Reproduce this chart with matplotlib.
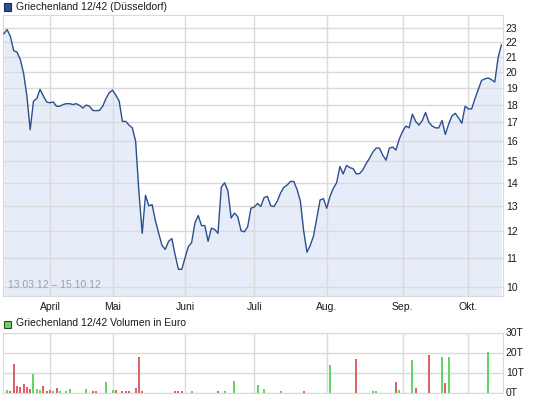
import numpy as np
import pandas as pd
import matplotlib
matplotlib.use('Agg')
import matplotlib.pyplot as plt
from matplotlib.patches import Rectangle
from matplotlib.ticker import FixedLocator, FixedFormatter, NullLocator

plt.rcParams['font.family'] = ['Liberation Sans', 'DejaVu Sans']

# Kurs (Euro) je Handelstag, 13.03.12 - 15.10.12
preis_maerz = [22.6, 22.9, 22.4, 21.4, 21.3, 20.8, 19.9, 18.5, 16.6, 18.2, 18.35, 18.9, 18.5, 18.15]
preis_april = [18.1, 18.15, 17.9, 17.9, 18.0, 18.05, 18.05, 18.0, 18.05, 17.95, 17.8, 17.97, 17.9,
               17.66, 17.65, 17.66, 17.9, 18.35, 18.7]
preis_mai = [18.85, 18.55, 18.2, 17.05, 17.05, 16.85, 16.7, 16.0, 13.6, 11.9, 13.45, 13.0, 13.05,
             12.4, 11.9, 11.45, 11.3, 11.6, 11.7, 11.1, 10.6, 10.6]
preis_juni = [11.0, 11.4, 11.55, 12.3, 12.6, 12.2, 12.2, 11.6, 12.1, 12.05, 11.9, 13.8, 14.0, 13.65,
              12.5, 12.7, 12.55, 12.0, 11.96, 12.15, 12.9]
preis_juli = [12.95, 13.1, 12.97, 13.35, 13.4, 13.0, 12.97, 13.2, 13.55, 13.8, 13.9, 14.06, 14.06,
              13.7, 13.2, 12.0, 11.2, 11.45, 11.8, 12.5, 13.25, 13.3]
preis_aug = [12.9, 13.4, 13.75, 14.0, 14.75, 14.4, 14.8, 14.7, 14.65, 14.4, 14.42, 14.6, 14.9, 15.15,
             15.45, 15.65, 15.65, 15.3, 15.05, 15.65, 15.7, 15.55, 16.1]
preis_sep = [16.5, 16.8, 16.7, 17.45, 17.05, 16.85, 17.1, 17.55, 17.0, 16.8, 16.7, 16.7, 17.1, 16.35,
             16.9, 17.35, 17.5, 17.25, 16.95, 17.9]
preis_okt = [17.75, 17.75, 18.35, 18.9, 19.45, 19.55, 19.6, 19.5, 19.35, 20.9, 21.8]

# Volumen (Tausend Euro): Handelstag-Nr., Wert, Farbe (g = steigend, r = fallend)
vol_tag = [1, 2, 3, 4, 5, 6, 7, 8, 9, 10, 11, 12, 13, 14, 15, 16, 17, 19, 20, 25, 27, 28, 31, 33,
           34, 36, 37, 38, 40, 41, 42, 52, 53, 54, 57, 65, 67, 70, 77, 79, 84, 91, 99, 107, 112,
           113, 119, 120, 124, 125, 129, 133, 134, 135, 147]
vol_wert = [1.2, 0.7, 14.2, 3.2, 2.7, 4.2, 2.7, 1.8, 9.2, 1.7, 1.2, 3.2, 0.7, 1.2, 0.7, 2.2, 0.7,
            0.7, 1.7, 1.7, 0.7, 0.7, 5.2, 1.2, 1.2, 0.7, 0.7, 0.7, 2.2, 17.7, 0.7, 0.7, 0.7, 0.7,
            0.7, 0.7, 0.7, 5.7, 3.7, 1.7, 0.7, 0.7, 13.7, 16.7, 0.7, 0.7, 5.2, 1.2, 16.3, 2.3,
            18.7, 17.7, 4.7, 17.7, 20.2]
vol_farbe = ['g', 'r', 'r', 'r', 'r', 'r', 'r', 'r', 'g', 'g', 'g', 'r', 'r', 'r', 'g', 'r', 'g',
             'g', 'g', 'g', 'r', 'r', 'g', 'g', 'r', 'r', 'r', 'r', 'r', 'r', 'r', 'r', 'r', 'r',
             'g', 'r', 'g', 'g', 'g', 'g', 'g', 'r', 'g', 'r', 'g', 'g', 'r', 'g', 'g', 'r',
             'r', 'g', 'r', 'g', 'g']

monate = ['April', 'Mai', 'Juni', 'Juli', 'Aug.', 'Sep.', 'Okt.']
kurs_ticks = list(range(10, 24))
vol_ticks = [0, 10, 20, 30]
vol_labels = ['0T', '10T', '20T', '30T']

# Handelskalender (Feiertage Ostern, 1. Mai)
tage = pd.bdate_range('2012-03-13', '2012-10-15')
tage = tage[~tage.isin(pd.to_datetime(['2012-04-06', '2012-04-09', '2012-05-01']))]
preis = np.array(preis_maerz + preis_april + preis_mai + preis_juni + preis_juli
                 + preis_aug + preis_sep + preis_okt)
x = np.arange(len(tage))
monat_pos = [int(np.argmax(tage.month == m)) for m in range(4, 11)]

W, H = 545, 401
fig = plt.figure(figsize=(W / 100, H / 100), dpi=100)
fig.patch.set_facecolor('white')

def rect(l, t, r, b):
    return [l / W, 1 - b / H, (r - l) / W, (b - t) / H]

grid_c = '#dadada'
txt_c = '#1a1a1a'

# --- Kurschart ---
ax = fig.add_axes(rect(3, 15, 503, 296))
ax.set_yscale('log')
ymin, ymax = 9.73, 24.0
ax.fill_between(x, preis, ymin, color='#e6ecf8', lw=0, zorder=1)
ax.plot(x, preis, color='#2c4f8e', lw=1.0, zorder=3)
ax.set_ylim(ymin, ymax)
ax.set_xlim(-0.25, 151.5)
ax.yaxis.set_major_locator(FixedLocator(kurs_ticks))
ax.yaxis.set_major_formatter(FixedFormatter([str(t) for t in kurs_ticks]))
ax.yaxis.set_minor_locator(NullLocator())
ax.yaxis.tick_right()
ax.set_xticks(monat_pos)
ax.set_xticklabels(monate)
ax.tick_params(axis='both', length=0, labelsize=7.5, colors=txt_c)
ax.tick_params(axis='y', pad=2)
ax.tick_params(axis='x', pad=4)
ax.grid(True, color=grid_c, lw=1, zorder=2)
ax.set_axisbelow(False)
for s in ax.spines.values():
    s.set_color(grid_c)
ax.text(0.01, 0.022, '13.03.12 \u2013 15.10.12', transform=ax.transAxes, fontsize=7.5,
        color='#a0a0a0', ha='left', va='bottom', zorder=4)

# --- Volumen ---
av = fig.add_axes(rect(3, 332.5, 503, 392.5))
farben = {'g': '#66d466', 'r': '#dc6464'}
av.bar(vol_tag, vol_wert, width=0.62, color=[farben[c] for c in vol_farbe], lw=0, zorder=3)
av.set_xlim(-0.25, 151.5)
av.set_ylim(0, 30)
av.set_yticks(vol_ticks)
av.set_yticklabels(vol_labels)
av.yaxis.tick_right()
av.set_xticks(monat_pos)
av.set_xticklabels([])
av.tick_params(axis='both', length=0, labelsize=7.5, colors=txt_c)
av.tick_params(axis='y', pad=2)
av.grid(True, color=grid_c, lw=1, zorder=1)
av.set_axisbelow(True)
for s in av.spines.values():
    s.set_color(grid_c)

# --- Überschriften mit Farbquadraten ---
fig.add_artist(Rectangle((3.5 / W, 1 - 10.5 / H), 7 / W, 7 / H, transform=fig.transFigure,
                         facecolor='#2c4f8e', edgecolor='#1a2a4a', lw=0.8))
fig.text(15.5 / W, 1 - 6.5 / H, 'Griechenland 12/42 (Düsseldorf)', fontsize=7.5, color=txt_c,
         ha='left', va='center')
fig.add_artist(Rectangle((3.5 / W, 1 - 327.5 / H), 7 / W, 7 / H, transform=fig.transFigure,
                         facecolor='#66d466', edgecolor='#2a4a2a', lw=0.8))
fig.text(15.5 / W, 1 - 323.5 / H, 'Griechenland 12/42 Volumen in Euro', fontsize=7.5,
         color=txt_c, ha='left', va='center')

fig.savefig('out.png', dpi=100)
